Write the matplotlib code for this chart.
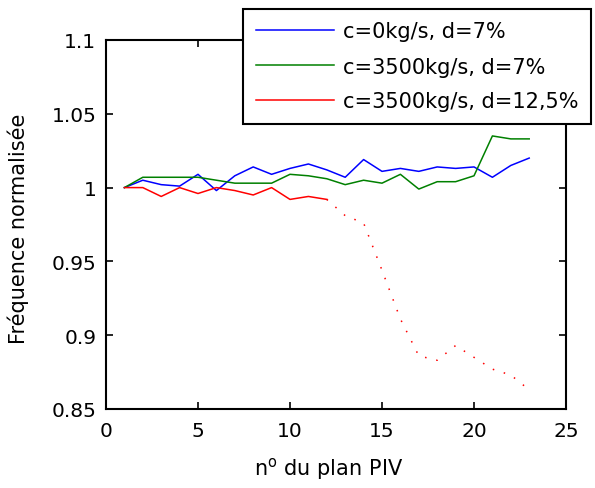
import matplotlib.pyplot as plt

plt.rcParams["font.family"] = ["DejaVu Sans"]
plt.rcParams["mathtext.fontset"] = "dejavusans"

# PIV plane numbers
plans = list(range(1, 24))

# c=0kg/s, d=7%
freq_c0_d7 = [1.000, 1.005, 1.002, 1.001, 1.009, 0.998, 1.008, 1.014, 1.009,
              1.013, 1.016, 1.012, 1.007, 1.019, 1.011, 1.013, 1.011, 1.014,
              1.013, 1.014, 1.007, 1.015, 1.020]

# c=3500kg/s, d=7%
freq_c3500_d7 = [1.000, 1.007, 1.007, 1.007, 1.007, 1.005, 1.003, 1.003, 1.003,
                 1.009, 1.008, 1.006, 1.002, 1.005, 1.003, 1.009, 0.999, 1.004,
                 1.004, 1.008, 1.035, 1.033, 1.033]

# c=3500kg/s, d=12,5% (measured part, then dotted continuation)
freq_c3500_d125 = [1.000, 1.000, 0.994, 1.000, 0.996, 1.000, 0.998, 0.995,
                   1.000, 0.992, 0.994, 0.992]
plans_dotted = list(range(12, 24))
freq_c3500_d125_dotted = [0.992, 0.981, 0.976, 0.944, 0.911, 0.886, 0.883,
                          0.893, 0.885, 0.877, 0.873, 0.863]

fig = plt.figure(figsize=(5.95, 4.89), dpi=100)
ax = fig.add_axes([106 / 595, 1 - 410 / 489, 460 / 595, 369 / 489])

ax.plot(plans, freq_c0_d7, color="#0000ff", linewidth=1.1, label="c=0kg/s, d=7%")
ax.plot(plans, freq_c3500_d7, color="#008000", linewidth=1.1,
        label="c=3500kg/s, d=7%")
ax.plot(plans[:12], freq_c3500_d125, color="#ff0000", linewidth=1.1,
        label="c=3500kg/s, d=12,5%")
ax.plot(plans_dotted, freq_c3500_d125_dotted, color="#ff0000", linewidth=1.1,
        linestyle=(0, (1, 6.5)))

ax.set_xlim(0, 25)
ax.set_ylim(0.85, 1.1)
ax.set_xticks([0, 5, 10, 15, 20, 25])
ax.set_yticks([0.85, 0.9, 0.95, 1.0, 1.05, 1.1])
ax.set_yticklabels(["0.85", "0.9", "0.95", "1", "1.05", "1.1"])
ax.tick_params(direction="in", length=5, width=1.2, labelsize=14.5,
               top=True, right=True)
ax.tick_params(axis="x", pad=9)
ax.tick_params(axis="y", pad=7)
for spine in ax.spines.values():
    spine.set_linewidth(1.5)

ax.set_xlabel("n$^\\mathrm{o}$ du plan PIV", fontsize=15)
ax.set_ylabel("Fréquence normalisée", fontsize=15)
ax.xaxis.set_label_coords(0.485, -0.125)
ax.yaxis.set_label_coords(-0.168, 0.49)

leg = fig.legend(loc="upper left", bbox_to_anchor=(243 / 595, 1 - 10 / 489),
                 borderaxespad=0, fancybox=False, fontsize=15,
                 handlelength=3.75, handletextpad=0.43, labelspacing=0.72,
                 borderpad=0.6, framealpha=1)
leg.get_frame().set_edgecolor("black")
leg.get_frame().set_linewidth(1.5)

fig.savefig("out.png", dpi=100)
